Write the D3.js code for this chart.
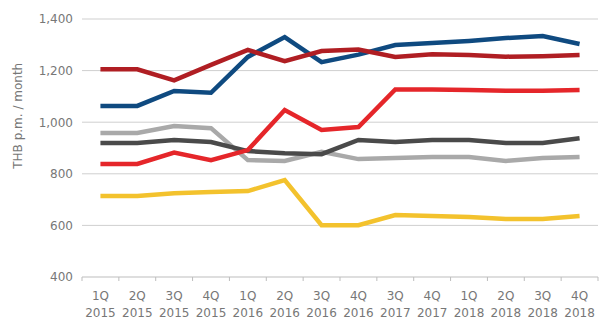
<!DOCTYPE html>
<html><head><meta charset="utf-8">
<script src="https://cdn.jsdelivr.net/npm/d3@7"></script>
<style>body{margin:0;background:#fff;}svg{display:block;font-family:"DejaVu Sans",Arial,sans-serif;}</style>
</head><body>
<svg id="c" width="603" height="324"></svg>
<script>
const quarters = ["1Q","2Q","3Q","4Q","1Q","2Q","3Q","4Q","3Q","4Q","1Q","2Q","3Q","4Q"];
const years = ["2015","2015","2015","2015","2016","2016","2016","2016","2017","2017","2018","2018","2018","2018"];
const yTicks = [400,600,800,1000,1200,1400];
const darkRed = [1205,1205,1162,1222,1280,1237,1276,1282,1253,1263,1260,1254,1256,1260];
const blue = [1063,1063,1121,1114,1253,1330,1233,1262,1299,1307,1315,1326,1334,1303];
const brightRed = [838,838,882,853,892,1047,970,981,1127,1127,1125,1122,1122,1125];
const darkGray = [919,919,931,923,888,880,876,931,923,931,931,919,919,938];
const lightGray = [958,958,985,977,853,850,885,857,861,865,865,850,861,865];
const yellow = [714,714,725,729,733,776,601,601,640,636,633,625,625,636];

const series = [
  {name:"yellow", values:yellow, color:"#f3c22d"},
  {name:"lightGray", values:lightGray, color:"#a9a9a9"},
  {name:"darkGray", values:darkGray, color:"#4a4a4a"},
  {name:"brightRed", values:brightRed, color:"#e5262a"},
  {name:"blue", values:blue, color:"#0f4a80"},
  {name:"darkRed", values:darkRed, color:"#b01e23"}
];

const svg = d3.select("#c");
const m = {l:82, r:5, t:19, b:47};
const W = 603, H = 324;
const idx = d3.range(quarters.length);
const x = d3.scaleBand().domain(idx).range([m.l, W - m.r]);
const y = d3.scaleLinear().domain([400,1400]).range([H - m.b, m.t]);

// gridlines
svg.append("g").selectAll("line").data(yTicks.filter(d=>d>400)).join("line")
  .attr("x1", m.l).attr("x2", W - m.r)
  .attr("y1", d=>y(d)).attr("y2", d=>y(d))
  .attr("stroke", "#cfcfcf").attr("stroke-width", 1);

// y labels
const yAxis = d3.axisLeft(y).tickValues(yTicks).tickSize(0).tickPadding(9)
  .tickFormat(d3.format(","));
const gy = svg.append("g").attr("transform", `translate(${m.l},0)`).call(yAxis);
gy.select(".domain").remove();
gy.selectAll("text").attr("fill", "#777").style("font-size", "12px").style("font-family", "DejaVu Sans");

// x axis
const gx = svg.append("g").attr("transform", `translate(0,${y(400)})`);
gx.append("line").attr("x1", m.l).attr("x2", W - m.r).attr("stroke", "#bdbdbd");
const bounds = d3.range(quarters.length + 1).map(i => m.l + i * x.step());
gx.selectAll("line.t").data(bounds).join("line").attr("class","t")
  .attr("x1", d=>d).attr("x2", d=>d).attr("y1", 0).attr("y2", 4).attr("stroke", "#bdbdbd");
const lab = gx.selectAll("text").data(idx).join("text")
  .attr("text-anchor", "middle").attr("fill", "#777").style("font-size", "12px")
  .attr("transform", d => `translate(${x(d) + x.bandwidth()/2},0)`);
lab.append("tspan").attr("x", 0).attr("y", 22.5).text(d => quarters[d]);
lab.append("tspan").attr("x", 0).attr("y", 40).text(d => years[d]);

// y title
svg.append("text").attr("transform", `translate(22,${(y(1250)+y(800))/2}) rotate(-90)`)
  .attr("text-anchor", "middle").attr("fill", "#777").style("font-size", "12px")
  .text("THB p.m. / month");

// lines
const line = d3.line().x((d,i) => x(i) + x.bandwidth()/2).y(d => y(d));
svg.append("g").selectAll("path").data(series).join("path")
  .attr("d", d => line(d.values))
  .attr("fill", "none").attr("stroke", d => d.color)
  .attr("stroke-width", 4.5).attr("stroke-linejoin", "miter");
</script>
</body></html>
